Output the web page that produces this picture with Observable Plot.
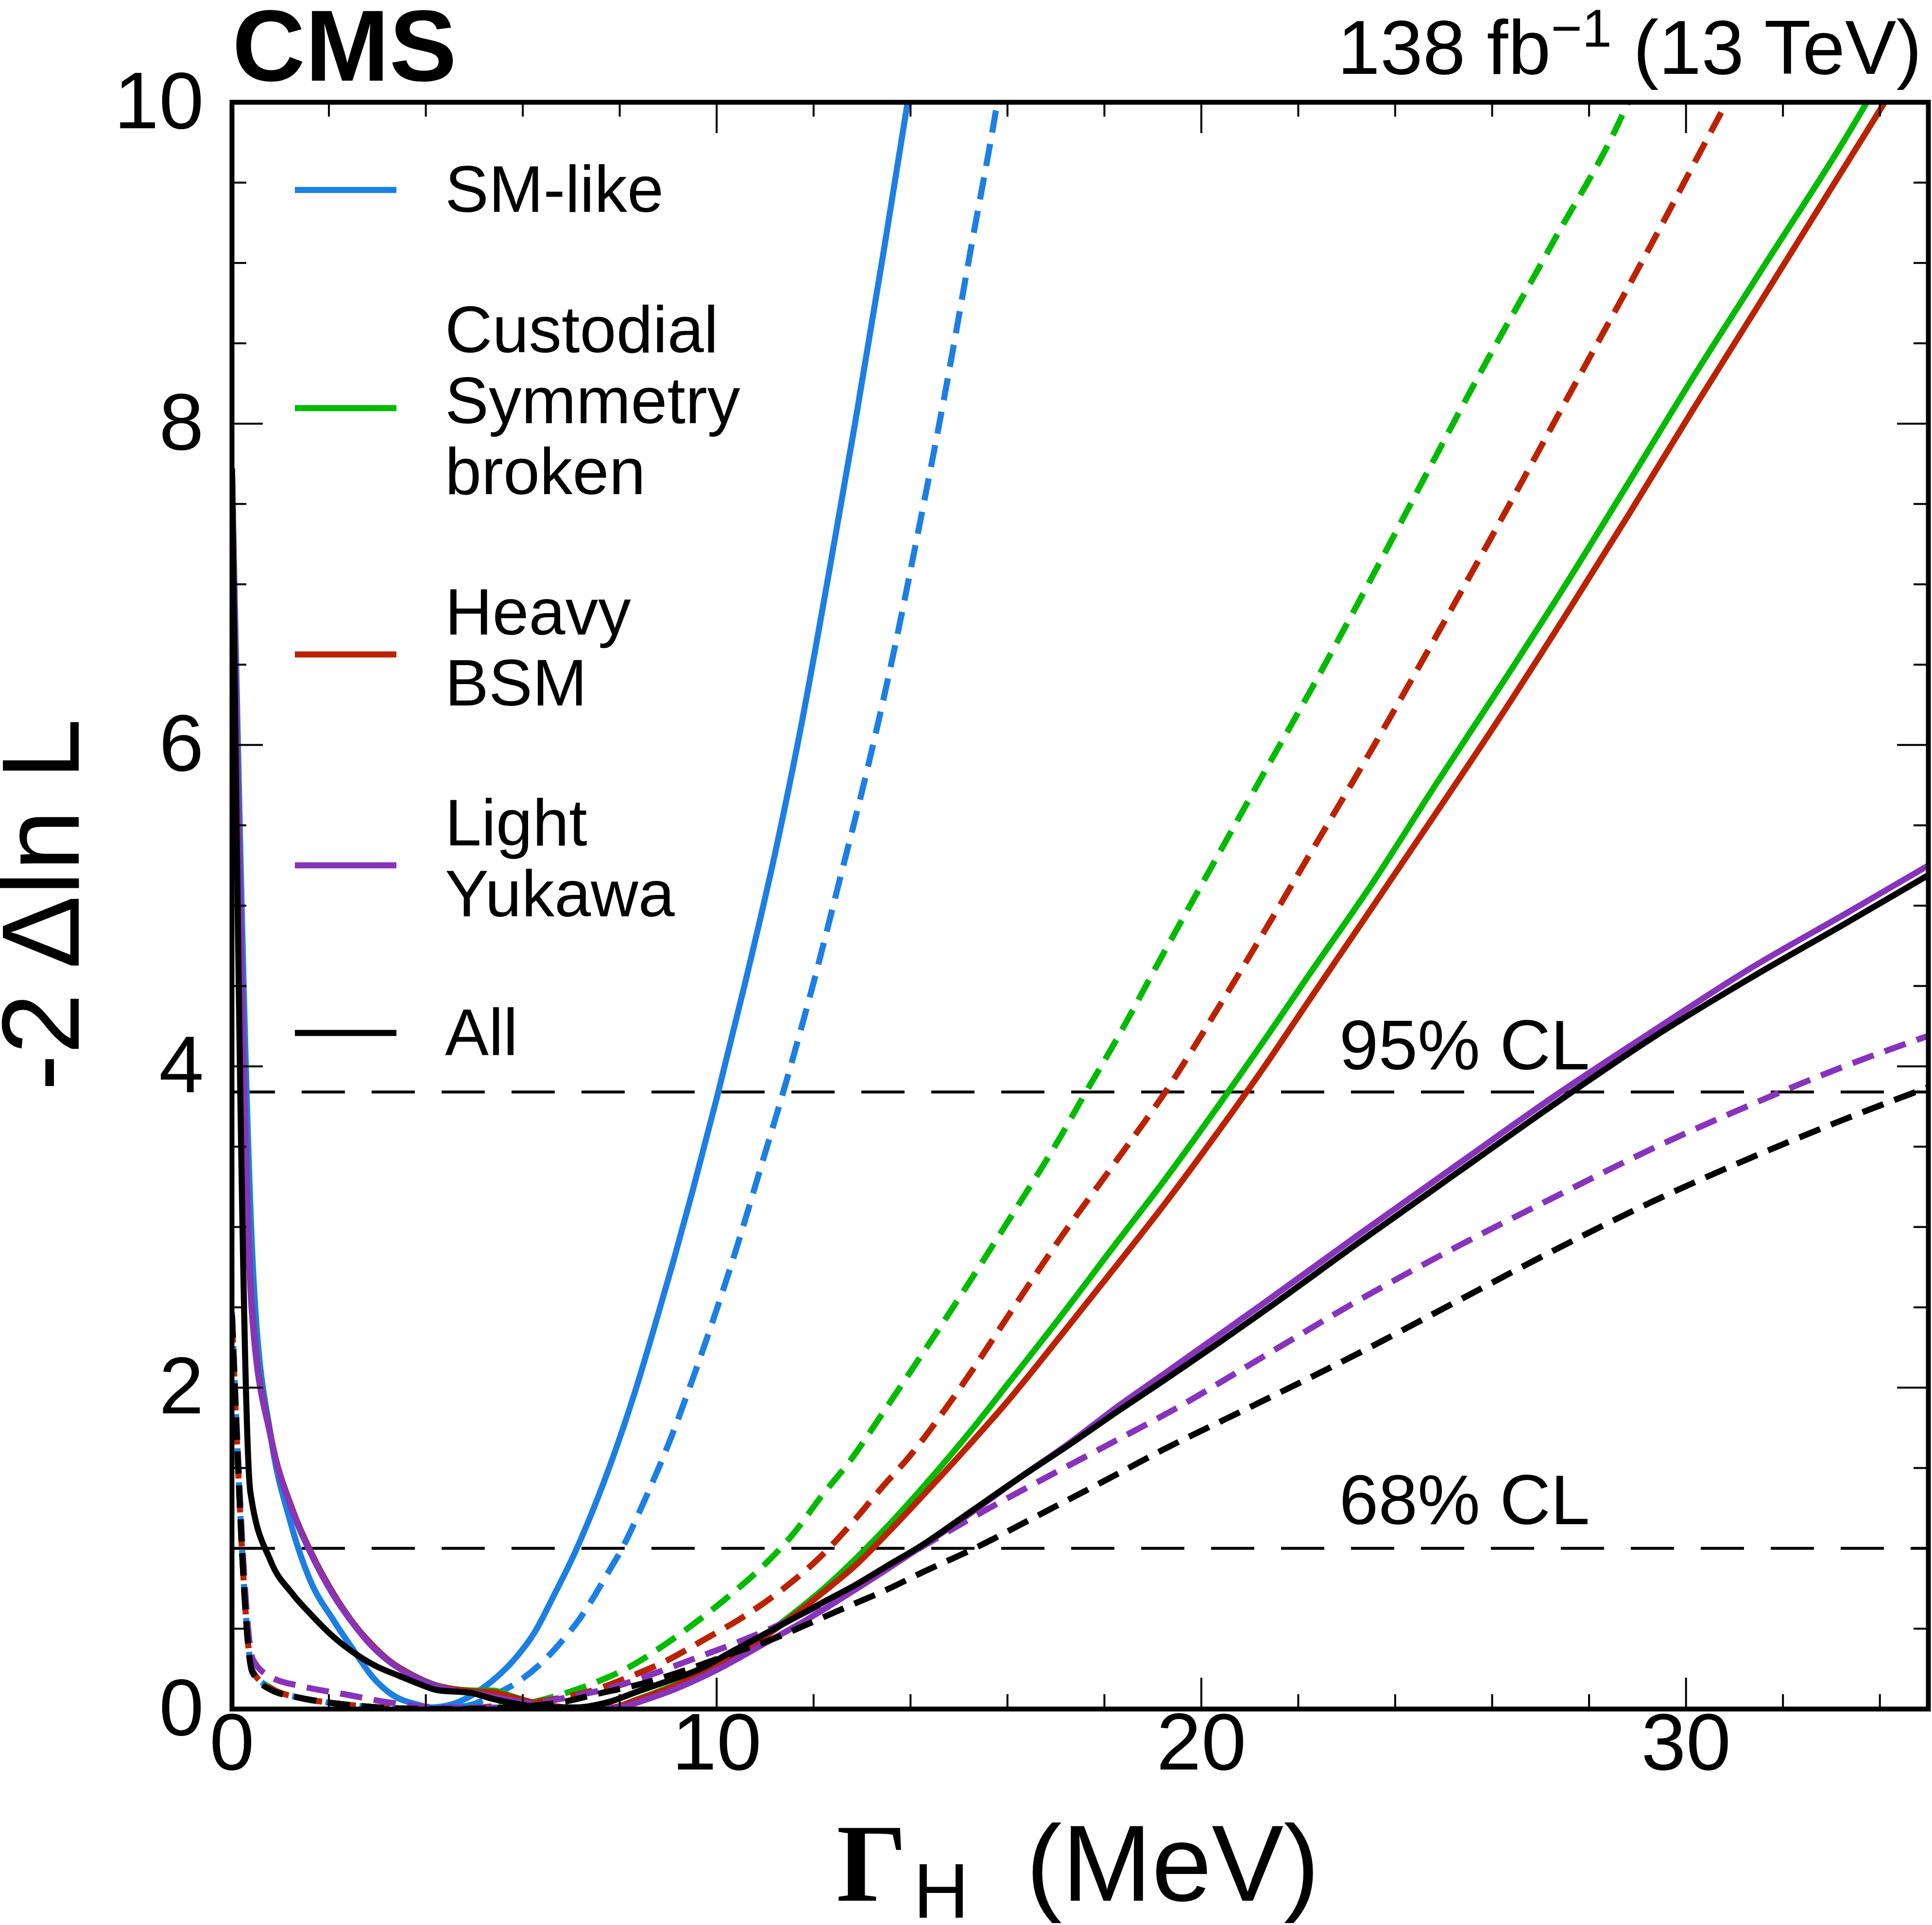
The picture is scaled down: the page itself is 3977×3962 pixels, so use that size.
<!DOCTYPE html>
<html>
<head>
<meta charset="utf-8">
<script src="https://cdn.jsdelivr.net/npm/d3@7"></script>
<script src="https://cdn.jsdelivr.net/npm/@observablehq/plot@0.6"></script>
<style>
  html, body { margin: 0; padding: 0; background: #fff; }
  svg { display: block; }
</style>
</head>
<body>
<div id="chart"></div>
<script>
// ---------- data (Gamma_H in MeV, -2 Delta ln L) ----------
const smSolid = [[0,7.72],[0.45,2.65],[0.8,1.70],[1.2,1.17],[1.6,0.81],[2.1,0.55],[2.5,0.37],[2.9,0.20],[3.3,0.09],[3.8,0.03],[4.1,0.01],[4.55,0.03],[4.94,0.084],[5.38,0.178],[5.8,0.30],[6.25,0.48],[6.63,0.70],[7.07,0.97],[7.49,1.27],[7.9,1.60],[8.3,1.96],[8.7,2.36],[9.1,2.78],[9.5,3.22],[10.0,3.80],[10.58,4.51],[11.23,5.36],[11.77,6.16],[12.31,7.06],[12.86,8.01],[13.45,9.08],[13.94,10.0],[14.2,10.5]];
const smDashed = [[0,2.47],[0.42,0.24],[0.8,0.13],[1.4,0.07],[2.0,0.04],[2.8,0.015],[3.5,0.003],[4.3,0.0],[4.94,0.027],[5.38,0.084],[5.89,0.167],[6.37,0.282],[6.79,0.417],[7.17,0.56],[7.49,0.71],[7.78,0.86],[8.05,1.0],[8.5,1.29],[9.06,1.69],[9.5,2.05],[9.96,2.45],[10.36,2.82],[10.9,3.36],[11.45,3.92],[11.99,4.51],[12.53,5.15],[13.07,5.80],[13.62,6.53],[14.16,7.33],[14.7,8.17],[15.24,9.08],[15.79,10.0],[16.0,10.4]];
const custSolid = [[0,7.72],[0.41,2.5],[0.8,1.7],[1.25,1.24],[1.64,0.97],[2.09,0.72],[2.49,0.54],[2.89,0.40],[3.29,0.29],[3.7,0.215],[4.23,0.147],[4.55,0.126],[5.0,0.115],[5.38,0.115],[5.77,0.08],[6.15,0.045],[6.6,0.02],[7.2,0.005],[7.81,0.008],[8.38,0.0625],[9.02,0.135],[9.66,0.22],[10.3,0.334],[10.94,0.448],[11.58,0.594],[12.21,0.75],[12.85,0.93],[13.49,1.126],[14.24,1.375],[15.24,1.73],[16.0,2.02],[17.09,2.44],[18.17,2.87],[19.26,3.30],[20.34,3.75],[21.43,4.22],[22.2,4.56],[23.53,5.14],[24.85,5.76],[26.18,6.37],[27.5,6.99],[28.83,7.64],[30.15,8.29],[31.48,8.92],[33.73,10.0],[34.2,10.25]];
const custDashed = [[0,2.45],[0.42,0.24],[0.8,0.13],[1.4,0.07],[2.0,0.04],[2.8,0.015],[3.5,0.003],[4.5,0.0],[5.5,0.015],[6.28,0.048],[6.72,0.084],[7.43,0.157],[8.19,0.26],[8.96,0.407],[9.66,0.56],[10.36,0.73],[11.06,0.92],[11.58,1.09],[12.15,1.32],[12.79,1.56],[13.4,1.83],[14.0,2.1],[14.92,2.52],[16.0,3.03],[17.09,3.56],[17.6,3.83],[18.2,4.14],[19.25,4.72],[20.3,5.29],[21.3,5.83],[22.2,6.31],[23.53,7.05],[24.72,7.73],[25.78,8.33],[27.24,9.12],[28.8,10.0],[29.2,10.3]];
const heavySolid = [[0,7.72],[0.41,2.5],[0.8,1.7],[1.25,1.24],[1.64,0.97],[2.09,0.72],[2.49,0.54],[2.89,0.40],[3.29,0.29],[3.7,0.215],[4.23,0.145],[4.55,0.125],[5.0,0.11],[5.38,0.105],[5.77,0.075],[6.15,0.045],[6.6,0.02],[7.2,0.005],[7.81,0.008],[8.38,0.06],[9.02,0.13],[9.66,0.215],[10.3,0.33],[10.94,0.44],[11.58,0.58],[12.21,0.73],[12.85,0.89],[13.49,1.084],[14.24,1.324],[15.2,1.64],[15.96,1.90],[17.09,2.32],[18.17,2.73],[19.26,3.15],[20.34,3.59],[21.26,3.98],[22.2,4.40],[23.28,4.88],[24.85,5.58],[26.18,6.18],[27.5,6.80],[28.83,7.44],[30.15,8.09],[31.48,8.73],[32.8,9.37],[34.2,10.05],[34.6,10.25]];
const heavyDashed = [[0,2.42],[0.42,0.24],[0.8,0.13],[1.4,0.07],[2.0,0.04],[2.8,0.015],[3.5,0.003],[4.5,0.0],[5.5,0.02],[6.66,0.063],[7.43,0.115],[8.19,0.199],[8.96,0.30],[9.72,0.428],[10.55,0.574],[11.38,0.75],[12.15,0.95],[12.79,1.157],[13.43,1.386],[14.0,1.58],[14.7,1.86],[15.3,2.12],[16.0,2.44],[17.09,2.93],[18.17,3.38],[19.3,3.86],[20.3,4.34],[21.3,4.84],[22.2,5.30],[23.53,5.98],[24.85,6.68],[26.18,7.40],[27.5,8.13],[29.22,9.08],[30.84,10.0],[31.2,10.2]];
const lightSolid = [[0,7.72],[0.41,2.47],[0.8,1.69],[1.25,1.23],[1.64,0.96],[2.09,0.71],[2.49,0.535],[2.89,0.39],[3.29,0.285],[3.7,0.21],[4.15,0.15],[4.59,0.115],[5.0,0.10],[5.49,0.07],[6.02,0.04],[6.56,0.015],[7.2,0.003],[7.81,0.005],[8.7,0.075],[9.98,0.24],[10.94,0.40],[11.88,0.56],[13.0,0.77],[14.17,1.0],[15.2,1.21],[16.22,1.433],[17.3,1.66],[18.26,1.88],[19.25,2.09],[21.26,2.52],[23.28,2.96],[25.29,3.39],[27.31,3.82],[29.32,4.22],[31.33,4.61],[33.35,4.96],[35,5.25]];
const lightDashed = [[0,2.45],[0.43,0.31],[0.8,0.20],[1.47,0.14],[2.36,0.09],[3.26,0.04],[4.15,0.012],[5.0,0.008],[5.83,0.012],[6.4,0.042],[7.11,0.084],[7.87,0.136],[8.7,0.22],[9.53,0.313],[10.36,0.407],[11.26,0.52],[12.09,0.64],[12.85,0.76],[13.55,0.886],[14.24,1.01],[15.5,1.23],[16.79,1.44],[18.17,1.66],[19.47,1.87],[21.26,2.19],[23.28,2.55],[25.29,2.88],[27.31,3.19],[29.32,3.49],[31.33,3.76],[33.35,4.01],[35,4.19]];
const allSolid = [[0,7.72],[0.38,1.35],[0.8,0.92],[1.24,0.72],[1.64,0.585],[2.09,0.45],[2.53,0.347],[2.98,0.266],[3.43,0.209],[3.88,0.154],[4.23,0.118],[4.94,0.10],[5.38,0.063],[5.83,0.035],[6.21,0.016],[6.6,0.01],[7.11,0.01],[7.75,0.042],[8.38,0.11],[9.02,0.177],[9.66,0.25],[10.3,0.355],[10.94,0.459],[11.58,0.563],[12.21,0.667],[12.85,0.77],[13.49,0.886],[14.24,1.02],[15.2,1.22],[16.22,1.433],[17.3,1.65],[18.26,1.85],[19.25,2.05],[21.26,2.47],[23.28,2.91],[25.29,3.34],[27.31,3.77],[29.32,4.18],[31.33,4.55],[33.35,4.90],[35,5.19]];
const allDashed = [[0,2.45],[0.42,0.23],[0.8,0.12],[1.4,0.07],[2.0,0.04],[2.8,0.015],[3.5,0.004],[4.5,0.0],[5.5,0.006],[6.15,0.02],[6.79,0.042],[7.55,0.095],[8.45,0.157],[9.34,0.24],[10.3,0.344],[11.26,0.448],[11.89,0.53],[12.72,0.64],[13.49,0.74],[14.24,0.85],[15.32,1.0],[16.6,1.2],[18.0,1.42],[19.25,1.62],[20.81,1.85],[23.28,2.22],[25.29,2.54],[27.31,2.86],[29.32,3.16],[31.33,3.43],[33.35,3.68],[35,3.87]];

const modelNames = [["SM-like"], ["Custodial", "Symmetry", "broken"], ["Heavy", "BSM"], ["Light", "Yukawa"], ["All"]];
const modelColors = ["#1c7fe3", "#00bb00", "#bb2200", "#8833bb", "#000000"];
const modelSolid = [smSolid, custSolid, heavySolid, lightSolid, allSolid];
const modelDashed = [smDashed, custDashed, heavyDashed, lightDashed, allDashed];

const clLevels = [1, 3.84];
const clNames = ["68% CL", "95% CL"];
const clLabelPos = [[22.85, 1.15], [22.85, 3.98]];

const xTickLabels = [0, 10, 20, 30];
const yTickLabels = [0, 2, 4, 6, 8, 10];

// ---------- layout ----------
const W = 3977, H = 3962;
const mL = 477, mR = 8, mT = 210, mB = 445;
const xDomain = [0, 35], yDomain = [0, 10];
const xPerPx = (xDomain[1] - xDomain[0]) / (W - mL - mR);
const yPerPx = (yDomain[1] - yDomain[0]) / (H - mT - mB);
const majLen = 64, minLen = 30;
const xMinor = d3.range(0, 35.001, 2).filter(v => v % 10 !== 0);
const yMinor = d3.range(0, 10.001, 0.5).filter(v => v % 2 !== 0);
const FONT = "Liberation Sans, Arial, Helvetica, sans-serif";
const LW = 12.5;

const toRows = arr => arr.map(([x, y]) => ({x, y}));

const curveMarks = [];
modelSolid.forEach((s, i) => {
  curveMarks.push(Plot.line(toRows(s), {x: "x", y: "y", stroke: modelColors[i], strokeWidth: LW, strokeLinecap: "butt", curve: "monotone-x", clip: true}));
  curveMarks.push(Plot.line(toRows(modelDashed[i]), {x: "x", y: "y", stroke: modelColors[i], strokeWidth: LW, strokeLinecap: "butt", strokeDasharray: "46,24", curve: "monotone-x", clip: true}));
});

const tickStyle = {stroke: "black", strokeWidth: 4};
const chart = Plot.plot({
  width: W, height: H,
  marginLeft: mL, marginRight: mR, marginTop: mT, marginBottom: mB,
  x: {domain: xDomain, axis: null},
  y: {domain: yDomain, axis: null},
  style: {fontFamily: FONT, background: "white", overflow: "visible"},
  marks: [
    Plot.ruleY(clLevels, {y: d => d, stroke: "black", strokeWidth: 6, strokeDasharray: "89,55"}),
    ...curveMarks,
    // bottom / top ticks
    Plot.ruleX(xTickLabels, {x: d => d, y1: 0, y2: majLen * yPerPx, ...tickStyle}),
    Plot.ruleX(xMinor, {x: d => d, y1: 0, y2: minLen * yPerPx, ...tickStyle}),
    Plot.ruleX(xTickLabels, {x: d => d, y1: 10 - majLen * yPerPx, y2: 10, ...tickStyle}),
    Plot.ruleX(xMinor, {x: d => d, y1: 10 - minLen * yPerPx, y2: 10, ...tickStyle}),
    // left / right ticks
    Plot.ruleY(yTickLabels, {y: d => d, x1: 0, x2: majLen * xPerPx, ...tickStyle}),
    Plot.ruleY(yMinor, {y: d => d, x1: 0, x2: minLen * xPerPx, ...tickStyle}),
    Plot.ruleY(yTickLabels, {y: d => d, x1: 35 - majLen * xPerPx, x2: 35, ...tickStyle}),
    Plot.ruleY(yMinor, {y: d => d, x1: 35 - minLen * xPerPx, x2: 35, ...tickStyle}),
    // tick labels
    Plot.text(xTickLabels, {x: d => d, text: d => String(d), frameAnchor: "bottom", dy: 124, fontSize: 166, fill: "black", fontFamily: FONT}),
    Plot.text(yTickLabels, {y: d => d, text: d => String(d), frameAnchor: "left", textAnchor: "end", dx: -58, fontSize: 166, fill: "black", fontFamily: FONT}),
    Plot.frame({stroke: "black", strokeWidth: 10})
  ]
});
document.getElementById("chart").appendChild(chart);

const svg = d3.select(chart);
const sx = chart.scale("x"), sy = chart.scale("y");
const addText = (x, y, str, size, opts = {}) => {
  const t = svg.append("text").attr("x", x).attr("y", y)
    .attr("font-family", opts.family || FONT).attr("font-size", size)
    .attr("text-anchor", opts.anchor || "start").attr("fill", "black");
  if (opts.weight) t.attr("font-weight", opts.weight);
  if (str != null) t.text(str);
  return t;
};

// CMS label
addText(478, 166, "CMS", 208, {weight: "bold"});

// luminosity label
const lumi = addText(3956, 152, null, 158, {anchor: "end"});
lumi.append("tspan").text("138 fb");
lumi.append("tspan").attr("font-size", 110).attr("dy", -56).text("\u22121");
lumi.append("tspan").attr("dy", 56).text(" (13 TeV)");

// x-axis title
addText(1722, 3912, "\u0393", 228, {family: "Liberation Serif, Times New Roman, serif", weight: "bold"});
addText(1880, 3947, "H", 159);
addText(2112, 3912, "(MeV)", 222);

// y-axis title
svg.append("text").attr("transform", "translate(162,1862) rotate(-90)")
  .attr("text-anchor", "middle").attr("font-family", FONT).attr("font-size", 226)
  .attr("fill", "black").text("-2 \u0394ln L");

// CL labels
clNames.forEach((t, i) => {
  addText(sx.apply(clLabelPos[i][0]), sy.apply(clLabelPos[i][1]), t, 145);
});

// legend
const legendLineY = [391, 840, 1347, 1781, 2126];
const legendFirstBaseline = [436, 725, 1306, 1740, 2171];
const lineGap = 146;
modelNames.forEach((lines, i) => {
  svg.append("line").attr("x1", 607).attr("x2", 816)
    .attr("y1", legendLineY[i]).attr("y2", legendLineY[i])
    .attr("stroke", modelColors[i]).attr("stroke-width", LW);
  lines.forEach((t, j) => addText(916, legendFirstBaseline[i] + j * lineGap, t, 135));
});
</script>
</body>
</html>
